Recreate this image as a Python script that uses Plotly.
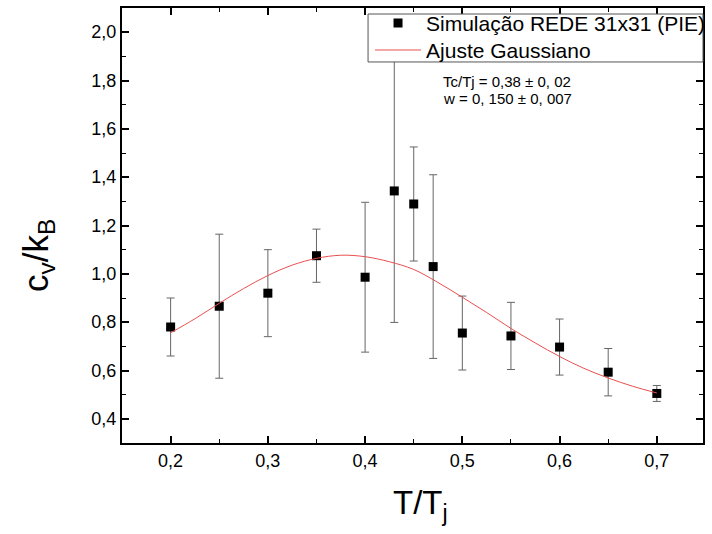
import plotly.graph_objects as go

# ---- data ----
t_sim = [0.20, 0.25, 0.30, 0.35, 0.40, 0.43, 0.45, 0.47, 0.50, 0.55, 0.60, 0.65, 0.70]
cv_sim = [0.780, 0.866, 0.920, 1.075, 0.986, 1.343, 1.289, 1.030, 0.755, 0.743, 0.697, 0.593, 0.505]
cv_err = [0.120, 0.298, 0.180, 0.110, 0.310, 0.544, 0.236, 0.380, 0.153, 0.139, 0.116, 0.098, 0.033]

t_fit = [0.200, 0.225, 0.250, 0.275, 0.300, 0.325, 0.350, 0.375, 0.400, 0.425, 0.450,
         0.475, 0.500, 0.525, 0.550, 0.575, 0.600, 0.625, 0.650, 0.675, 0.700]
cv_fit = [0.756, 0.814, 0.878, 0.939, 0.993, 1.036, 1.064, 1.077, 1.071, 1.050, 1.018,
          0.964, 0.903, 0.840, 0.774, 0.714, 0.658, 0.609, 0.569, 0.535, 0.507]

x_ticks = [0.2, 0.3, 0.4, 0.5, 0.6, 0.7]
x_ticktext = ["0,2", "0,3", "0,4", "0,5", "0,6", "0,7"]
y_ticks = [0.4, 0.6, 0.8, 1.0, 1.2, 1.4, 1.6, 1.8, 2.0]
y_ticktext = ["0,4", "0,6", "0,8", "1,0", "1,2", "1,4", "1,6", "1,8", "2,0"]

FONT = "Liberation Sans, Arial, sans-serif"

fig = go.Figure()
fig.add_trace(go.Scatter(
    x=t_sim, y=cv_sim, mode="markers", name="Simulação REDE 31x31 (PIE)",
    marker=dict(symbol="square", size=9, color="black"),
    error_y=dict(type="data", array=cv_err, visible=True, color="#666666", thickness=1, width=4),
    legend="legend",
))
fig.add_trace(go.Scatter(
    x=t_fit, y=cv_fit, mode="lines", name="Ajuste Gaussiano",
    line=dict(color="#e8504f", width=1, shape="spline"),
    legend="legend2",
))

axis_common = dict(
    showline=True, linewidth=2, linecolor="black", mirror="ticks",
    ticks="inside", ticklen=7, tickwidth=1.5, tickcolor="black",
    showgrid=False, zeroline=False,
    tickfont=dict(family=FONT, size=18, color="black"),
)

fig.update_xaxes(
    range=[0.15, 0.7475], tickvals=x_ticks, ticktext=x_ticktext,
    minor=dict(ticks="inside", ticklen=4, tickwidth=1, tickcolor="black", dtick=0.05, tick0=0.15),
    **axis_common,
)
fig.update_yaxes(
    range=[0.3, 2.1], tickvals=y_ticks, ticktext=y_ticktext,
    minor=dict(ticks="inside", ticklen=4, tickwidth=1, tickcolor="black", dtick=0.1, tick0=0.3),
    **axis_common,
)

legend_common = dict(
    xanchor="left", yanchor="top",
    bgcolor="rgba(0,0,0,0)", borderwidth=0,
    font=dict(family=FONT, size=21, color="black"),
    itemwidth=46,
)

fig.update_layout(
    width=712, height=534,
    margin=dict(l=122, r=2, t=8, b=91),
    paper_bgcolor="white", plot_bgcolor="white",
    font=dict(family=FONT, color="black"),
    showlegend=True,
    legend=dict(x=0.4269, y=1.0118, **legend_common),
    legend2=dict(x=0.4269, y=0.9498, **legend_common),
    shapes=[
        dict(type="rect", xref="paper", yref="paper", x0=0.4235, x1=1.0, y0=0.8759, y1=0.9862,
             fillcolor="white", line=dict(color="#555555", width=1), layer="above"),
    ],
    annotations=[
        dict(text="Tc/Tj = 0,38 ± 0, 02", xref="paper", yref="paper", x=0.549, y=0.830,
             xanchor="left", yanchor="middle", showarrow=False,
             font=dict(family=FONT, size=15, color="black")),
        dict(text="w = 0, 150 ± 0, 007", xref="paper", yref="paper", x=0.549, y=0.791,
             xanchor="left", yanchor="middle", showarrow=False,
             font=dict(family=FONT, size=15, color="black")),
        dict(text="c<sub>v</sub>/k<sub>B</sub>", xref="paper", yref="paper", x=-0.1446, y=0.432,
             xanchor="center", yanchor="middle", textangle=-90, showarrow=False,
             font=dict(family=FONT, size=35, color="black")),
        dict(text="T/T<sub>j</sub>", xref="paper", yref="paper", x=0.5136, y=-0.1425,
             xanchor="center", yanchor="middle", showarrow=False,
             font=dict(family=FONT, size=33, color="black")),
    ],
)

fig.write_html("out.html")
